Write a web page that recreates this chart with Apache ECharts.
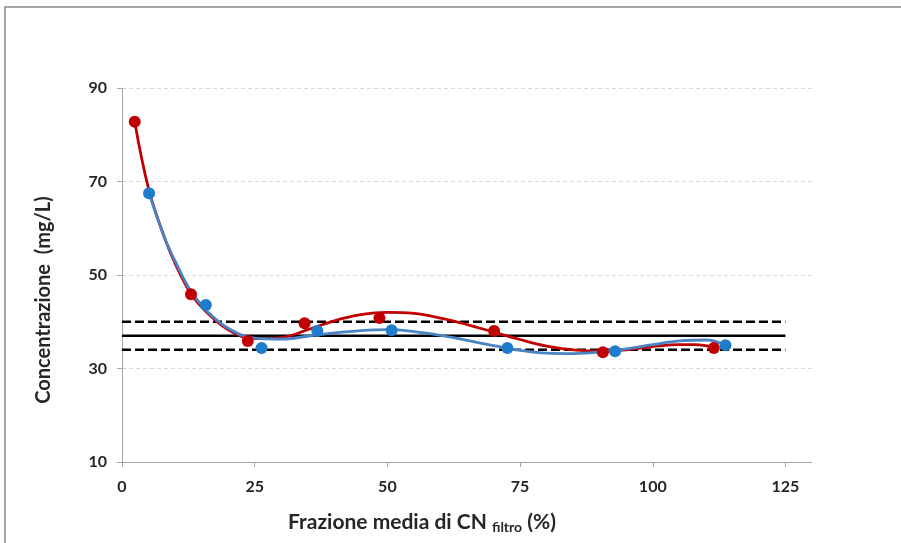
<!DOCTYPE html>
<html>
<head>
<meta charset="utf-8">
<script src="https://cdn.jsdelivr.net/npm/echarts@6/dist/echarts.min.js"></script>
<style>
  html, body { margin: 0; padding: 0; background: #fff; }
  #chart { width: 901px; height: 543px; }
</style>
</head>
<body>
<div id="chart"></div>
<script>
// punti misurati
var redX = [2.4, 13.0, 23.7, 34.4, 48.5, 70.1, 90.6, 111.5];
var redY = [82.8, 45.9, 35.9, 39.7, 40.8, 38.0, 33.5, 34.4];
var blueX = [5.1, 15.8, 26.3, 36.8, 50.8, 72.6, 92.9, 113.7];
var blueY = [67.5, 43.6, 34.4, 38.0, 38.2, 34.4, 33.7, 35.0];

// curve di tendenza
var redCurveX = [2.4, 5, 8, 10, 13, 16, 20, 25, 30, 35, 40, 45, 50, 55, 60, 65, 70, 75, 80, 85, 90, 95, 100, 105, 108, 111.5];
var redCurveY = [82.8, 68.5, 58, 52.5, 46, 42, 38.3, 36.4, 36.6, 38.3, 40.2, 41.5, 42.0, 41.8, 40.8, 39.4, 37.8, 36.2, 34.8, 34.0, 33.7, 34.0, 34.7, 35.1, 35.1, 34.5];
var blueCurveX = [5.1, 8, 10, 13, 16, 20, 25, 30, 35, 40, 45, 50, 55, 60, 65, 70, 75, 80, 85, 90, 95, 100, 105, 110, 113.7];
var blueCurveY = [67.5, 58, 53, 46.5, 42.3, 38.6, 36.5, 36.3, 36.9, 37.6, 38.1, 38.3, 37.9, 37.1, 36.0, 34.9, 33.9, 33.3, 33.2, 33.5, 34.2, 35.1, 35.9, 36.1, 35.0];

// linee orizzontali (media e limiti)
var refSpan = [0, 125];
var meanY = 37;
var upperY = 40;
var lowerY = 34;

var xTicks = [0, 25, 50, 75, 100, 125];

function pairs(xs, ys) {
    return xs.map(function (x, i) { return [x, ys[i]]; });
}
function hline(y) {
    return refSpan.map(function (x) { return [x, y]; });
}

var font = 'Lato, "Open Sans", sans-serif';
var myChart = echarts.init(document.getElementById('chart'));
var option = {
    backgroundColor: '#fff',
    animation: false,
    grid: { left: 122, right: 89, top: 88, bottom: 81 },
    graphic: [
        {
            type: 'rect',
            shape: { x: 5, y: 7, width: 1000, height: 1000 },
            style: { fill: 'none', stroke: '#8a8a8a', lineWidth: 1.5 }
        },
        {
            type: 'text',
            x: 44, y: 300,
            rotation: Math.PI / 2,
            style: {
                text: 'Concentrazione  (mg/L)',
                font: 'bold 20px ' + font,
                fill: '#262626',
                align: 'center',
                verticalAlign: 'middle'
            }
        },
        {
            type: 'text',
            x: 422, y: 522,
            style: {
                text: '{a|Frazione media di CN }{s|filtro}{a| (%)}',
                align: 'center',
                verticalAlign: 'middle',
                rich: {
                    a: { fontFamily: font, fontSize: 21, fontWeight: 'bold', fill: '#262626', color: '#262626' },
                    s: { fontFamily: font, fontSize: 14, fontWeight: 'bold', fill: '#262626', color: '#262626', padding: [11, 0, 0, 0] }
                }
            }
        }
    ],
    xAxis: {
        type: 'value',
        min: 0,
        max: 130,
        interval: 25,
        axisLine: { lineStyle: { color: '#a6a6a6', width: 1 } },
        axisTick: { show: true, length: 5, customValues: xTicks, lineStyle: { color: '#a6a6a6' } },
        axisLabel: {
            customValues: xTicks,
            margin: 17,
            fontFamily: font,
            fontWeight: 'bold',
            fontSize: 16,
            color: '#262626'
        },
        splitLine: { show: false }
    },
    yAxis: {
        type: 'value',
        min: 10,
        max: 90,
        interval: 20,
        axisLine: { show: true, lineStyle: { color: '#a6a6a6', width: 1 } },
        axisTick: { show: true, length: 5, lineStyle: { color: '#a6a6a6' } },
        axisLabel: {
            margin: 15,
            fontFamily: font,
            fontWeight: 'bold',
            fontSize: 16,
            color: '#262626'
        },
        splitLine: { show: true, lineStyle: { color: '#d9d9d9', type: [4, 3], width: 1 } }
    },
    series: [
        {
            type: 'line', data: hline(upperY), showSymbol: false, silent: true, z: 2,
            lineStyle: { color: '#000', width: 2.5, type: [9, 4] }
        },
        {
            type: 'line', data: hline(lowerY), showSymbol: false, silent: true, z: 2,
            lineStyle: { color: '#000', width: 2.5, type: [9, 4] }
        },
        {
            type: 'line', data: hline(meanY), showSymbol: false, silent: true, z: 2,
            lineStyle: { color: '#000', width: 2.5 }
        },
        {
            type: 'line', data: pairs(redCurveX, redCurveY), smooth: 0.4, showSymbol: false, z: 3,
            lineStyle: { color: '#c00000', width: 2.8 }
        },
        {
            type: 'line', data: pairs(blueCurveX, blueCurveY), smooth: 0.4, showSymbol: false, z: 4,
            lineStyle: { color: '#4a84c4', width: 2.8 }
        },
        {
            type: 'scatter', data: pairs(redX, redY), symbolSize: 12, z: 5,
            itemStyle: { color: '#c00000', opacity: 1 }
        },
        {
            type: 'scatter', data: pairs(blueX, blueY), symbolSize: 12, z: 6,
            itemStyle: { color: '#1f7ccc', opacity: 1 }
        }
    ]
};
myChart.setOption(option);
</script>
</body>
</html>
